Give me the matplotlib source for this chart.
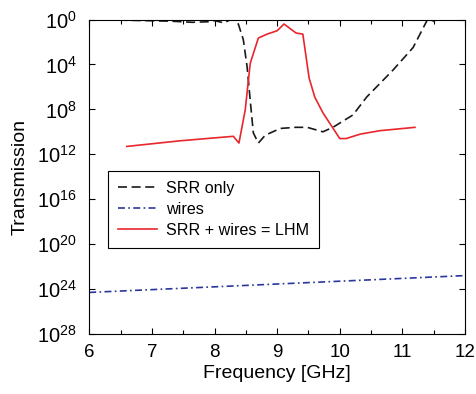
import matplotlib
matplotlib.use("Agg")
import matplotlib.pyplot as plt
import numpy as np

plt.rcParams['font.family'] = ['Liberation Sans', 'DejaVu Sans']
plt.rcParams['mathtext.default'] = 'regular'
plt.rcParams['lines.scale_dashes'] = False

# Frequencies (GHz) and transmission exponents (transmission = 10**(-exp))
srr_f = [6.46, 6.9, 7.3, 7.65, 7.9, 8.0, 8.15, 8.28, 8.38, 8.46, 8.52, 8.57, 8.62, 8.70,
         8.81, 9.05, 9.29, 9.48, 9.73, 9.89, 10.21, 10.43, 10.85, 11.17, 11.41, 11.52]
srr_e = [0.05, 0.1, 0.15, 0.25, 0.2, 0.1, 0.3, -0.05, 0.4, 1.8, 4.2, 7.2, 10.1, 11.0,
         10.3, 9.7, 9.6, 9.6, 10.0, 9.6, 8.5, 6.9, 4.5, 2.5, -0.1, 0.2]

wire_f = [6.0, 8.0, 10.0, 12.0]
wire_e = [24.3, 23.8, 23.3, 22.8]

lhm_f = [6.60, 7.45, 8.30, 8.39, 8.49, 8.57, 8.70, 8.84, 9.00, 9.11, 9.30, 9.41, 9.51,
         9.60, 9.73, 10.0, 10.1, 10.33, 10.64, 11.2]
lhm_e = [11.3, 10.8, 10.4, 11.0, 8.06, 3.9, 1.65, 1.3, 1.0, 0.4, 1.2, 1.3, 5.2,
         6.9, 8.3, 10.6, 10.6, 10.2, 9.9, 9.6]

ytick_exp = [0, 4, 8, 12, 16, 20, 24, 28]
ytick_labels = [r'$10^{%d}$' % e for e in ytick_exp]
xticks = [6, 7, 8, 9, 10, 11, 12]

fig = plt.figure(figsize=(4.76, 3.94), dpi=100)
ax = fig.add_axes([0.1875, 0.1523, 0.977 - 0.1875, 0.9505 - 0.1523])

ax.plot(srr_f, 10.0 ** (-np.array(srr_e)), color='#1a1a1a', lw=1.2,
        dashes=(6.5, 3.3), label='SRR only')
ax.plot(wire_f, 10.0 ** (-np.array(wire_e)), color='#2b359e', lw=1.2,
        dashes=(5.0, 2.4, 1.2, 2.4), label='wires')
ax.plot(lhm_f, 10.0 ** (-np.array(lhm_e)), color='#e8262c', lw=1.2,
        label='SRR + wires = LHM')

ax.set_yscale('log')
ax.set_xlim(6, 12)
ax.set_ylim(1e-28, 1e0)
ax.set_yticks([10.0 ** (-e) for e in ytick_exp])
ax.set_yticklabels(ytick_labels)
ax.yaxis.set_minor_locator(matplotlib.ticker.NullLocator())
ax.set_xticks(xticks)
ax.set_xticks(np.arange(6.5, 12, 1.0), minor=True)

ax.tick_params(which='both', direction='in', top=True, right=True, width=0.8)
ax.tick_params(which='major', length=4)
ax.tick_params(which='minor', length=3)
ax.tick_params(axis='x', pad=7, labelsize=13.5)
ax.tick_params(axis='y', pad=9, labelsize=14.5)
for s in ax.spines.values():
    s.set_linewidth(0.8)

ax.set_xlabel('Frequency [GHz]', fontsize=14, labelpad=3)
ax.set_ylabel('Transmission', fontsize=14, labelpad=6)

leg = ax.legend(loc='upper left', bbox_to_anchor=(0.05, 0.518), borderaxespad=0,
                fontsize=11.6, handlelength=2.46, handletextpad=0.55,
                borderpad=0.6, labelspacing=0.38, fancybox=False, framealpha=1,
                edgecolor='black')
leg.get_frame().set_linewidth(0.8)

fig.savefig('out.png', dpi=100)
